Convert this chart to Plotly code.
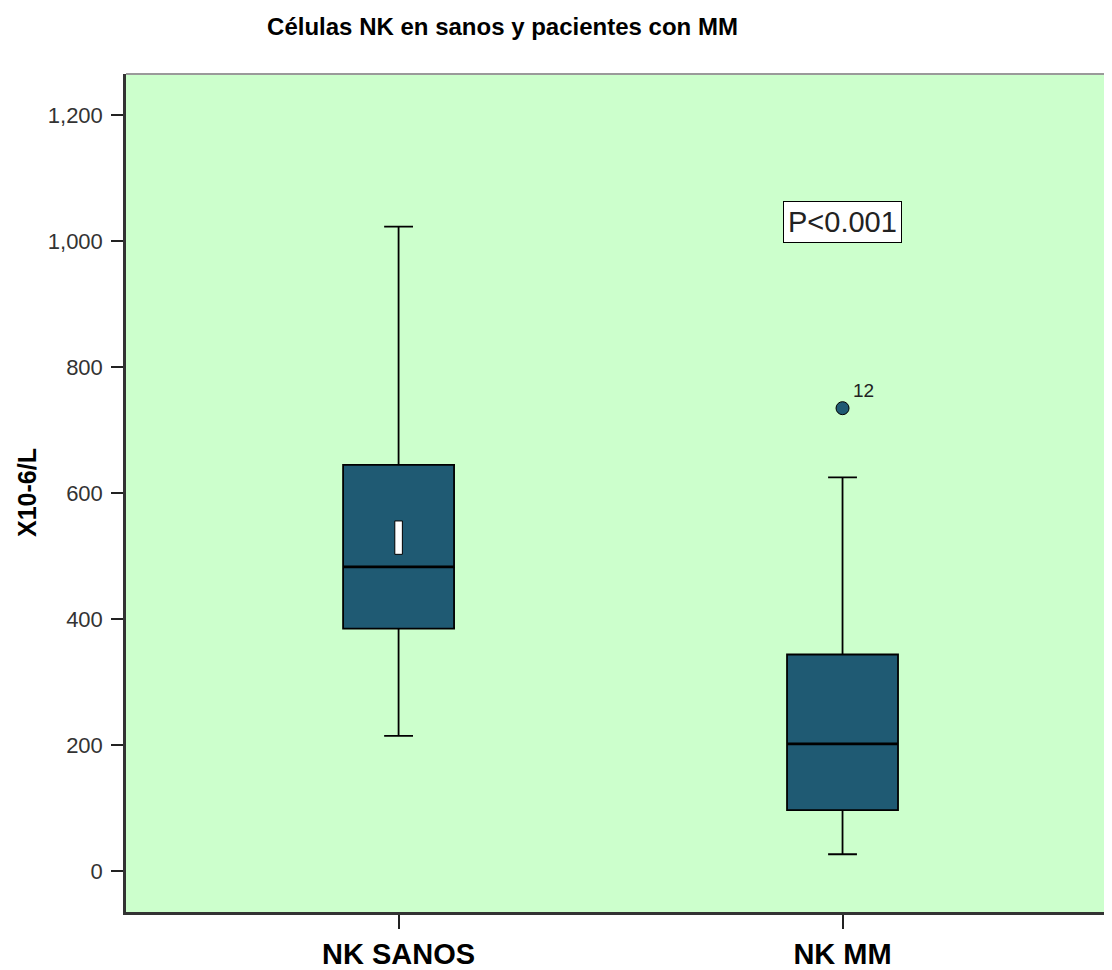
import plotly.graph_objects as go

# ---- data ----
categories = ["NK SANOS", "NK MM"]
positions = [0, 1]
lower_whisker = [215, 27]
q1 = [385, 97]
median = [483, 202]
q3 = [645, 344]
upper_whisker = [1023, 625]

outlier_cat = [1]
outlier_val = [735]
outlier_label = ["12"]

# small white marker drawn inside the first box
mark_cat = [0]
mark_lo = [503]
mark_hi = [556]

y_ticks = [0, 200, 400, 600, 800, 1000, 1200]
p_text = "P<0.001"
p_cat = 1
p_val = 1031

title = "Células NK en sanos y pacientes con MM"
y_title = "X10-6/L"

# ---- styling ----
FONT = "Liberation Sans, Arial, sans-serif"
BOX_FILL = "#1f5a73"
PLOT_BG = "#ccffcc"
BOX_W = 0.25
MARK_W = 0.017
W, H = 1104, 962  # page body margin of 8px offsets the figure

fig = go.Figure()

fig.add_trace(go.Box(
    x=positions,
    q1=q1, median=median, q3=q3,
    lowerfence=lower_whisker, upperfence=upper_whisker,
    fillcolor=BOX_FILL,
    line=dict(color="black", width=1.8),
    width=BOX_W,
    whiskerwidth=0.26,
    boxpoints=False,
    showlegend=False,
    hoverinfo="skip",
))

# thicker median lines
for p, m in zip(positions, median):
    fig.add_trace(go.Scatter(
        x=[p - BOX_W / 2, p + BOX_W / 2], y=[m, m],
        mode="lines", line=dict(color="black", width=2.8),
        showlegend=False, hoverinfo="skip",
    ))

# white marker rectangle
for c, lo, hi in zip(mark_cat, mark_lo, mark_hi):
    fig.add_trace(go.Scatter(
        x=[c - MARK_W / 2, c + MARK_W / 2, c + MARK_W / 2, c - MARK_W / 2, c - MARK_W / 2],
        y=[lo, lo, hi, hi, lo],
        mode="lines", fill="toself", fillcolor="white",
        line=dict(color="black", width=1),
        showlegend=False, hoverinfo="skip",
    ))

# outlier
fig.add_trace(go.Scatter(
    x=outlier_cat, y=outlier_val, mode="markers",
    marker=dict(size=13, color=BOX_FILL, line=dict(color="black", width=1)),
    showlegend=False, hoverinfo="skip",
))
for c, v, t in zip(outlier_cat, outlier_val, outlier_label):
    fig.add_annotation(x=c, y=v, text=t, showarrow=False,
                       xshift=21, yshift=18,
                       font=dict(family=FONT, size=19, color="#222"))

# P value box
fig.add_annotation(x=p_cat, y=p_val, text=p_text, showarrow=False,
                   bgcolor="white", bordercolor="black", borderwidth=1,
                   borderpad=4,
                   font=dict(family=FONT, size=29, color="#222"))

# y title
fig.add_annotation(xref="paper", yref="paper", x=-0.1004, y=0.5,
                   text="<b>" + y_title + "</b>", textangle=-90,
                   showarrow=False, xanchor="center", yanchor="middle",
                   font=dict(family=FONT, size=25, color="black"))

# top frame line
fig.add_shape(type="line", xref="paper", yref="paper", x0=0, x1=1, y0=1, y1=1,
              line=dict(color="#9a9a9a", width=2))

fig.update_layout(
    width=W, height=H,
    margin=dict(l=118, r=0, t=66, b=56),
    paper_bgcolor="white",
    plot_bgcolor=PLOT_BG,
    title=dict(text="<b>" + title + "</b>", x=(502.5 - 8) / W, xanchor="center",
               y=1 - 19 / H, yanchor="middle",
               font=dict(family=FONT, size=24, color="black")),
    font=dict(family=FONT),
    xaxis=dict(
        range=[-0.614, 1.607],
        tickmode="array", tickvals=positions, ticktext=["<b>" + c + "</b>" for c in categories],
        ticks="outside", ticklen=14, tickwidth=1.5, tickcolor="#222",
        tickfont=dict(family=FONT, size=29, color="black"),
        showgrid=False, zeroline=False,
        showline=True, linecolor="#333", linewidth=2.5,
    ),
    yaxis=dict(
        range=[-64.7, 1265.4],
        tickmode="array", tickvals=y_ticks, tickformat=",d",
        ticks="outside", ticklen=12, tickwidth=1.5, tickcolor="#222",
        tickfont=dict(family=FONT, size=22, color="#333"),
        ticklabelstandoff=4,
        showgrid=False, zeroline=False,
        showline=True, linecolor="#333", linewidth=2.5,
    ),
)

fig.write_html("out.html")
